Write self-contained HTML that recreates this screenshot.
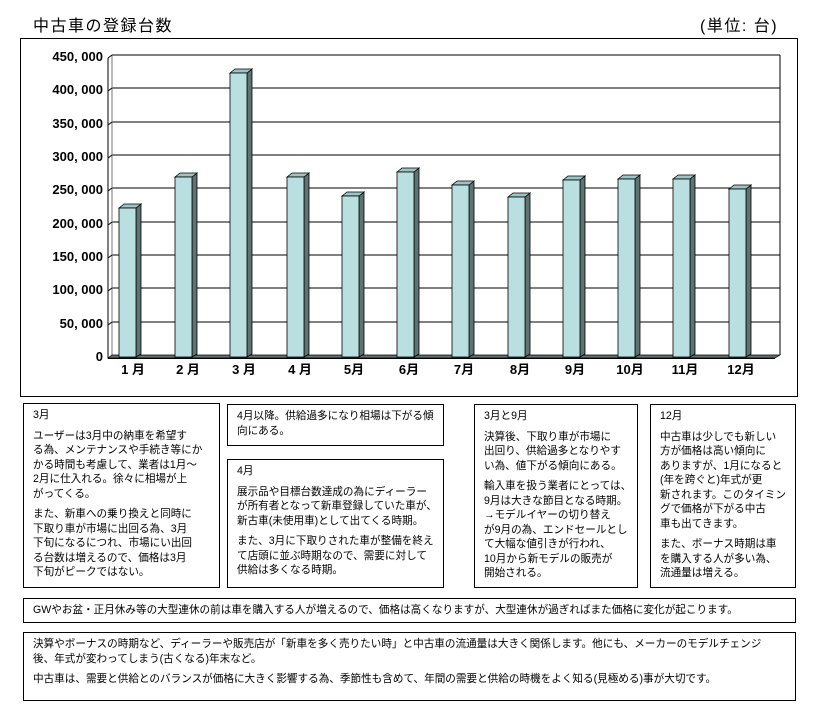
<!DOCTYPE html>
<html><head><meta charset="utf-8"><style>
body{margin:0;width:824px;height:720px;background:#fff;position:relative;overflow:hidden;font-family:"Liberation Sans","Noto Sans CJK JP",sans-serif;color:#000}
.b{position:absolute;border:1px solid #000;box-sizing:border-box;font-size:10.6px;line-height:14.5px;padding:4px 9px;white-space:nowrap}
.b p{margin:0 0 6px 0}
.t{position:absolute;font-size:16px;letter-spacing:1.5px}
</style></head><body>
<div class="t" style="left:33px;top:12px">中古車の登録台数</div>
<div class="t" style="left:700px;top:12px">(単位: 台)</div>
<svg style="position:absolute;left:0;top:0" width="824" height="400">
<rect x="20.5" y="38.5" width="777" height="358" fill="none" stroke="#000"/>
<g stroke="#000" stroke-width="1">
<line x1="112" y1="55" x2="780" y2="55"/><line x1="112" y1="88" x2="780" y2="88"/><line x1="112" y1="122" x2="780" y2="122"/><line x1="112" y1="155" x2="780" y2="155"/><line x1="112" y1="188" x2="780" y2="188"/><line x1="112" y1="222" x2="780" y2="222"/><line x1="112" y1="255" x2="780" y2="255"/><line x1="112" y1="288" x2="780" y2="288"/><line x1="112" y1="322" x2="780" y2="322"/>
<line x1="780" y1="55" x2="780" y2="355"/>
<line x1="112" y1="55" x2="112" y2="355" stroke="#777"/>
<line x1="108" y1="58" x2="108" y2="358"/>
<line x1="108" y1="58" x2="112" y2="55"/><line x1="108" y1="91" x2="112" y2="88"/><line x1="108" y1="125" x2="112" y2="122"/><line x1="108" y1="158" x2="112" y2="155"/><line x1="108" y1="191" x2="112" y2="188"/><line x1="108" y1="225" x2="112" y2="222"/><line x1="108" y1="258" x2="112" y2="255"/><line x1="108" y1="291" x2="112" y2="288"/><line x1="108" y1="325" x2="112" y2="322"/>
</g>
<polygon points="108,358 775,358 780,355 112,355" fill="#5f7373" stroke="#000" stroke-width="0.7"/>
<line x1="108" y1="358.5" x2="775" y2="358.5" stroke="#000"/>
<g stroke="#000" stroke-width="0.8">
<g id="bars"></g>
</g>
<g font-family="Liberation Sans, Noto Sans CJK JP, sans-serif" font-weight="bold" font-size="13" text-anchor="end">
<text x="103" y="61">450, 000</text><text x="103" y="94">400, 000</text><text x="103" y="128">350, 000</text><text x="103" y="161">300, 000</text><text x="103" y="194">250, 000</text><text x="103" y="228">200, 000</text><text x="103" y="261">150, 000</text><text x="103" y="294">100, 000</text><text x="103" y="328">50, 000</text><text x="103" y="361">0</text>
</g>
<g font-family="Liberation Sans, Noto Sans CJK JP, sans-serif" font-weight="bold" font-size="13" text-anchor="middle">
<text x="133" y="374">1 月</text><text x="188" y="374">2 月</text><text x="244" y="374">3 月</text><text x="300" y="374">4 月</text><text x="354" y="374">5月</text><text x="409" y="374">6月</text><text x="464" y="374">7月</text><text x="520" y="374">8月</text><text x="575" y="374">9月</text><text x="630" y="374">10月</text><text x="685" y="374">11月</text><text x="741" y="374">12月</text>
</g>
</svg>
<script>
var xs=[119,175,230,287,342,397,452,508,563,618,673,729],ts=[208,177,73,177,196,172,185,197,180,179,179,189],s='';
for(var i=0;i<12;i++){var x=xs[i],t=ts[i];
s+='<polygon points="'+(x+17)+','+t+' '+(x+22)+','+(t-4)+' '+(x+22)+',354 '+(x+17)+',357" fill="#5f7373"/>';
s+='<polygon points="'+x+','+t+' '+(x+5)+','+(t-4)+' '+(x+22)+','+(t-4)+' '+(x+17)+','+t+'" fill="#9cc4c6"/>';
s+='<rect x="'+x+'" y="'+t+'" width="17" height="'+(357-t)+'" fill="#b9dfe1"/>';}
document.getElementById('bars').innerHTML=s;
</script>
<div class="b" style="left:23px;top:403px;width:197px;height:185px"><p>3月</p><p>ユーザーは3月中の納車を希望す<br>る為、メンテナンスや手続き等にか<br>かる時間も考慮して、業者は1月～<br>2月に仕入れる。徐々に相場が上<br>がってくる。</p><p>また、新車への乗り換えと同時に<br>下取り車が市場に出回る為、3月<br>下旬になるにつれ、市場にい出回<br>る台数は増えるので、価格は3月<br>下旬がピークではない。</p></div>
<div class="b" style="left:227px;top:404px;width:217px;height:42px"><p>4月以降。供給過多になり相場は下がる傾<br>向にある。</p></div>
<div class="b" style="left:227px;top:459px;width:217px;height:129px"><p>4月</p><p>展示品や目標台数達成の為にディーラー<br>が所有者となって新車登録していた車が、<br>新古車(未使用車)として出てくる時期。</p><p>また、3月に下取りされた車が整備を終え<br>て店頭に並ぶ時期なので、需要に対して<br>供給は多くなる時期。</p></div>
<div class="b" style="left:474px;top:404px;width:164px;height:184px"><p>3月と9月</p><p>決算後、下取り車が市場に<br>出回り、供給過多となりやす<br>い為、値下がる傾向にある。</p><p>輸入車を扱う業者にとっては、<br>9月は大きな節目となる時期。<br>→モデルイヤーの切り替え<br>が9月の為、エンドセールとし<br>て大幅な値引きが行われ、<br>10月から新モデルの販売が<br>開始される。</p></div>
<div class="b" style="left:650px;top:404px;width:146px;height:184px"><p>12月</p><p>中古車は少しでも新しい<br>方が価格は高い傾向に<br>ありますが、1月になると<br>(年を跨ぐと)年式が更<br>新されます。このタイミン<br>グで価格が下がる中古<br>車も出てきます。</p><p>また、ボーナス時期は車<br>を購入する人が多い為、<br>流通量は増える。</p></div>
<div class="b" style="left:23px;top:598px;width:773px;height:25px;padding-top:4px">GWやお盆・正月休み等の大型連休の前は車を購入する人が増えるので、価格は高くなりますが、大型連休が過ぎればまた価格に変化が起こります。</div>
<div class="b" style="left:23px;top:632px;width:773px;height:69px"><p>決算やボーナスの時期など、ディーラーや販売店が「新車を多く売りたい時」と中古車の流通量は大きく関係します。他にも、メーカーのモデルチェンジ<br>後、年式が変わってしまう(古くなる)年末など。</p><p>中古車は、需要と供給とのバランスが価格に大きく影響する為、季節性も含めて、年間の需要と供給の時機をよく知る(見極める)事が大切です。</p></div>
</body></html>
